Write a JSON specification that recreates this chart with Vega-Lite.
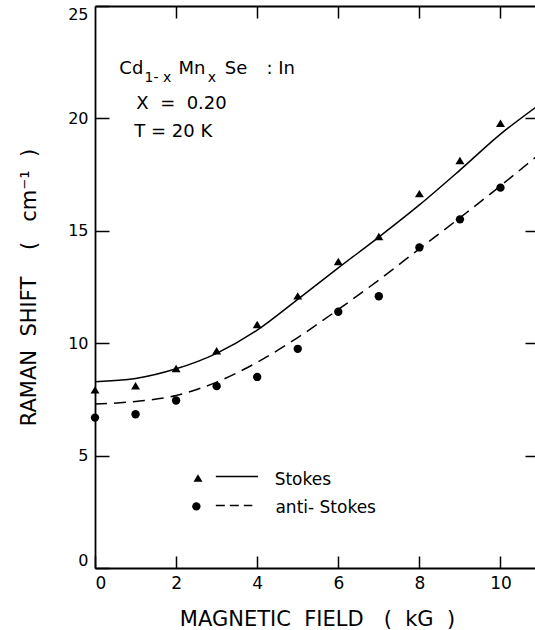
{
  "$schema": "https://vega.github.io/schema/vega-lite/v6.json",
  "width": 444,
  "height": 562,
  "autosize": {"type": "none"},
  "padding": {"left": 95, "top": 6, "right": 0, "bottom": 62},
  "background": "white",
  "config": {
    "view": {"stroke": null},
    "font": "DejaVu Sans",
    "axis": {
      "grid": false,
      "domainColor": "black",
      "domainWidth": 1.8,
      "tickColor": "black",
      "tickWidth": 1.5,
      "labelColor": "black",
      "labelFont": "DejaVu Sans",
      "labelFontSize": 16,
      "titleFont": "DejaVu Sans",
      "titleFontSize": 21,
      "titleFontWeight": "normal",
      "titleColor": "black"
    }
  },
  "datasets": {
    "points": [
      {"field": 0, "shift": 7.92, "series": "Stokes"},
      {"field": 1, "shift": 8.1, "series": "Stokes"},
      {"field": 2, "shift": 8.87, "series": "Stokes"},
      {"field": 3, "shift": 9.66, "series": "Stokes"},
      {"field": 4, "shift": 10.83, "series": "Stokes"},
      {"field": 5, "shift": 12.1, "series": "Stokes"},
      {"field": 6, "shift": 13.63, "series": "Stokes"},
      {"field": 7, "shift": 14.74, "series": "Stokes"},
      {"field": 8, "shift": 16.65, "series": "Stokes"},
      {"field": 9, "shift": 18.12, "series": "Stokes"},
      {"field": 10, "shift": 19.78, "series": "Stokes"},
      {"field": 0, "shift": 6.69, "series": "anti-Stokes"},
      {"field": 1, "shift": 6.84, "series": "anti-Stokes"},
      {"field": 2, "shift": 7.45, "series": "anti-Stokes"},
      {"field": 3, "shift": 8.09, "series": "anti-Stokes"},
      {"field": 4, "shift": 8.5, "series": "anti-Stokes"},
      {"field": 5, "shift": 9.75, "series": "anti-Stokes"},
      {"field": 6, "shift": 11.4, "series": "anti-Stokes"},
      {"field": 7, "shift": 12.09, "series": "anti-Stokes"},
      {"field": 8, "shift": 14.26, "series": "anti-Stokes"},
      {"field": 9, "shift": 15.51, "series": "anti-Stokes"},
      {"field": 10, "shift": 16.92, "series": "anti-Stokes"}
    ],
    "curves": [
      {"field": 0, "shift": 8.29, "series": "Stokes"},
      {"field": 1, "shift": 8.43, "series": "Stokes"},
      {"field": 2, "shift": 8.86, "series": "Stokes"},
      {"field": 3, "shift": 9.55, "series": "Stokes"},
      {"field": 4, "shift": 10.58, "series": "Stokes"},
      {"field": 5, "shift": 11.95, "series": "Stokes"},
      {"field": 6, "shift": 13.35, "series": "Stokes"},
      {"field": 7, "shift": 14.72, "series": "Stokes"},
      {"field": 8, "shift": 16.15, "series": "Stokes"},
      {"field": 9, "shift": 17.7, "series": "Stokes"},
      {"field": 10, "shift": 19.3, "series": "Stokes"},
      {"field": 10.95, "shift": 20.6, "series": "Stokes"},
      {"field": 0, "shift": 7.29, "series": "anti-Stokes"},
      {"field": 1, "shift": 7.41, "series": "anti-Stokes"},
      {"field": 2, "shift": 7.67, "series": "anti-Stokes"},
      {"field": 3, "shift": 8.27, "series": "anti-Stokes"},
      {"field": 4, "shift": 9.15, "series": "anti-Stokes"},
      {"field": 5, "shift": 10.25, "series": "anti-Stokes"},
      {"field": 6, "shift": 11.5, "series": "anti-Stokes"},
      {"field": 7, "shift": 12.81, "series": "anti-Stokes"},
      {"field": 8, "shift": 14.2, "series": "anti-Stokes"},
      {"field": 9, "shift": 15.58, "series": "anti-Stokes"},
      {"field": 10, "shift": 17.0, "series": "anti-Stokes"},
      {"field": 10.95, "shift": 18.4, "series": "anti-Stokes"}
    ],
    "key": [
      {"field": 2.54, "shift": 4.0, "x2": 2.98, "end": 4.02, "ly": 4.07, "tx": 4.43, "ty": 3.7, "label": "Stokes", "series": "Stokes"},
      {"field": 2.5, "shift": 2.74, "x2": 2.98, "end": 3.88, "ly": 2.78, "tx": 4.45, "ty": 2.44, "label": "anti- Stokes", "series": "anti-Stokes"}
    ],
    "notes": [
      {"field": 0.6, "shift": 21.97, "text": "Cd", "kind": "main"},
      {"field": 1.22, "shift": 21.62, "text": "1- x", "kind": "sub"},
      {"field": 2.06, "shift": 21.97, "text": "Mn", "kind": "main"},
      {"field": 2.78, "shift": 21.62, "text": "x", "kind": "sub"},
      {"field": 3.2, "shift": 21.97, "text": "Se", "kind": "main"},
      {"field": 4.23, "shift": 21.97, "text": ": In", "kind": "main"},
      {"field": 1.02, "shift": 20.44, "text": "X\u00a0 =\u00a0 0.20", "kind": "main"},
      {"field": 0.97, "shift": 19.18, "text": "T = 20 K", "kind": "main"}
    ]
  },
  "layer": [
    {
      "data": {"name": "curves"},
      "transform": [{"filter": "datum.series === 'Stokes'"}],
      "mark": {"type": "line", "interpolate": "monotone", "stroke": "black", "strokeWidth": 1.5},
      "encoding": {
        "x": {"field": "field", "type": "quantitative",
          "scale": {"domain": [0, 10.95], "nice": false, "zero": false},
          "axis": {"orient": "bottom", "values": [0, 2, 4, 6, 8, 10], "tickSize": -12, "labelFlush": true, "labelFontSize": 17, "labelPadding": 19, "title": "MAGNETIC\u00a0 FIELD\u00a0\u00a0 (\u00a0 kG\u00a0 )", "titlePadding": 17}},
        "y": {"field": "shift", "type": "quantitative",
          "scale": {"domain": [0, 25], "nice": false},
          "axis": {"orient": "left", "values": [0, 5, 10, 15, 20, 25], "tickSize": -14, "labelFlush": true, "labelPadding": 21, "title": "RAMAN\u00a0 SHIFT\u00a0\u00a0\u00a0 (\u00a0\u00a0 cm⁻¹\u00a0 )", "titlePadding": 28}}
      }
    },
    {
      "data": {"name": "curves"},
      "transform": [{"filter": "datum.series === 'anti-Stokes'"}],
      "mark": {"type": "line", "interpolate": "monotone", "stroke": "black", "strokeWidth": 1.5, "strokeDash": [12, 7]},
      "encoding": {
        "x": {"field": "field", "type": "quantitative",
          "scale": {"domain": [0, 10.95], "nice": false, "zero": false},
          "axis": {"orient": "top", "values": [2, 4, 6, 8, 10], "tickSize": -12, "labels": false, "title": null}},
        "y": {"field": "shift", "type": "quantitative",
          "scale": {"domain": [0, 25], "nice": false},
          "axis": {"orient": "right", "values": [5, 10, 15, 20], "tickSize": -14, "labels": false, "title": null}}
      }
    },
    {
      "data": {"name": "points"},
      "transform": [{"filter": "datum.series === 'Stokes'"}],
      "mark": {"type": "point", "shape": "M-1,0.8L1,0.8L0,-0.85Z", "size": 81, "filled": true, "fill": "black", "opacity": 1, "strokeWidth": 0},
      "encoding": {
        "x": {"field": "field", "type": "quantitative", "scale": {"domain": [0, 10.95], "nice": false, "zero": false}, "axis": null},
        "y": {"field": "shift", "type": "quantitative", "scale": {"domain": [0, 25], "nice": false}, "axis": null}
      }
    },
    {
      "data": {"name": "points"},
      "transform": [{"filter": "datum.series === 'anti-Stokes'"}],
      "mark": {"type": "point", "shape": "circle", "size": 70, "filled": true, "fill": "black", "opacity": 1, "strokeWidth": 0},
      "encoding": {
        "x": {"field": "field", "type": "quantitative", "scale": {"domain": [0, 10.95], "nice": false, "zero": false}, "axis": null},
        "y": {"field": "shift", "type": "quantitative", "scale": {"domain": [0, 25], "nice": false}, "axis": null}
      }
    },
    {
      "data": {"name": "key"},
      "transform": [{"filter": "datum.series === 'Stokes'"}],
      "mark": {"type": "point", "shape": "M-1,0.8L1,0.8L0,-0.85Z", "size": 81, "filled": true, "fill": "black", "opacity": 1, "strokeWidth": 0},
      "encoding": {
        "x": {"field": "field", "type": "quantitative", "scale": {"domain": [0, 10.95], "nice": false, "zero": false}, "axis": null},
        "y": {"field": "shift", "type": "quantitative", "scale": {"domain": [0, 25], "nice": false}, "axis": null}
      }
    },
    {
      "data": {"name": "key"},
      "transform": [{"filter": "datum.series === 'anti-Stokes'"}],
      "mark": {"type": "point", "shape": "circle", "size": 70, "filled": true, "fill": "black", "opacity": 1, "strokeWidth": 0},
      "encoding": {
        "x": {"field": "field", "type": "quantitative", "scale": {"domain": [0, 10.95], "nice": false, "zero": false}, "axis": null},
        "y": {"field": "shift", "type": "quantitative", "scale": {"domain": [0, 25], "nice": false}, "axis": null}
      }
    },
    {
      "data": {"name": "key"},
      "transform": [{"filter": "datum.series === 'Stokes'"}],
      "mark": {"type": "rule", "stroke": "black", "strokeWidth": 1.5},
      "encoding": {
        "x": {"field": "x2", "type": "quantitative", "scale": {"domain": [0, 10.95], "nice": false, "zero": false}, "axis": null},
        "x2": {"field": "end"},
        "y": {"field": "ly", "type": "quantitative", "scale": {"domain": [0, 25], "nice": false}, "axis": null}
      }
    },
    {
      "data": {"name": "key"},
      "transform": [{"filter": "datum.series === 'anti-Stokes'"}],
      "mark": {"type": "rule", "stroke": "black", "strokeWidth": 1.5, "strokeDash": [9, 5]},
      "encoding": {
        "x": {"field": "x2", "type": "quantitative", "scale": {"domain": [0, 10.95], "nice": false, "zero": false}, "axis": null},
        "x2": {"field": "end"},
        "y": {"field": "ly", "type": "quantitative", "scale": {"domain": [0, 25], "nice": false}, "axis": null}
      }
    },
    {
      "data": {"name": "key"},
      "mark": {"type": "text", "align": "left", "baseline": "alphabetic", "font": "DejaVu Sans", "fontSize": 17, "fill": "black"},
      "encoding": {
        "x": {"field": "tx", "type": "quantitative", "scale": {"domain": [0, 10.95], "nice": false, "zero": false}, "axis": null},
        "y": {"field": "ty", "type": "quantitative", "scale": {"domain": [0, 25], "nice": false}, "axis": null},
        "text": {"field": "label"}
      }
    },
    {
      "data": {"name": "notes"},
      "transform": [{"filter": "datum.kind === 'main'"}],
      "mark": {"type": "text", "align": "left", "baseline": "alphabetic", "font": "DejaVu Sans", "fontSize": 18, "fill": "black"},
      "encoding": {
        "x": {"field": "field", "type": "quantitative", "scale": {"domain": [0, 10.95], "nice": false, "zero": false}, "axis": null},
        "y": {"field": "shift", "type": "quantitative", "scale": {"domain": [0, 25], "nice": false}, "axis": null},
        "text": {"field": "text"}
      }
    },
    {
      "data": {"name": "notes"},
      "transform": [{"filter": "datum.kind === 'sub'"}],
      "mark": {"type": "text", "align": "left", "baseline": "alphabetic", "font": "DejaVu Sans", "fontSize": 14, "fill": "black"},
      "encoding": {
        "x": {"field": "field", "type": "quantitative", "scale": {"domain": [0, 10.95], "nice": false, "zero": false}, "axis": null},
        "y": {"field": "shift", "type": "quantitative", "scale": {"domain": [0, 25], "nice": false}, "axis": null},
        "text": {"field": "text"}
      }
    }
  ],
  "resolve": {"axis": {"x": "independent", "y": "independent"}}
}
